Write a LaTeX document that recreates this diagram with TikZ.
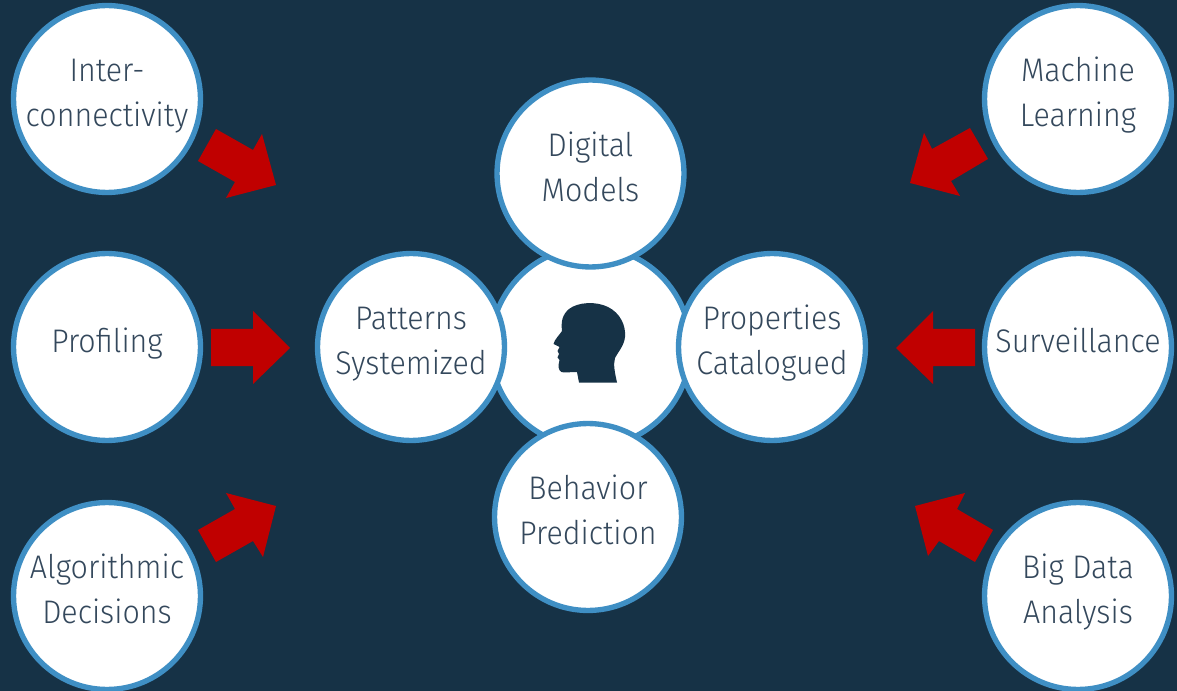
\documentclass[tikz,border=0pt]{standalone}
\usepackage{fontspec}
\setmainfont[FakeStretch=0.93]{Fira Sans Light}
\definecolor{bgc}{HTML}{163246}
\definecolor{ringc}{HTML}{3F8FC4}
\definecolor{redc}{HTML}{C00000}
\definecolor{txtc}{HTML}{34485C}
\newcommand{\lbtext}[1]{\raisebox{-3.4pt}[0pt][0pt]{\def\arraystretch{1}\setlength{\tabcolsep}{0pt}\begin{tabular}{c}#1\end{tabular}}}
\tikzset{
  bub/.style={circle,draw=ringc,fill=white,line width=4pt,minimum size=140.2pt,inner sep=0pt,text=txtc,
     font=\fontsize{24.5pt}{34pt}\selectfont},
  redarrow/.style={fill=redc,draw=none},
  headshape/.style={fill=bgc,draw=none}
}
\begin{document}
\begin{tikzpicture}[x=0.75pt,y=-0.75pt]
\useasboundingbox (0,0) rectangle (1177,691);
\fill[bgc] (0,0) rectangle (1177,691);
% arrows
\fill[redarrow] (198,161)--(216,129)--(253,150)--(262,134)--(276,185)--(226,198)--(235,182)--cycle;
\fill[redarrow] (211,329)--(253,329)--(253,311)--(290,348)--(253,384)--(253,366)--(211,366)--cycle;
\fill[redarrow] (198,530)--(216,562)--(253,541)--(263,557)--(276,506)--(226,493)--(235,509)--cycle;
\fill[redarrow] (988,159)--(970,128)--(932,149)--(924,133)--(910,183)--(960,196)--(951,181)--cycle;
\fill[redarrow] (975,329)--(933,329)--(933,311)--(896,348)--(933,384)--(933,366)--(975,366)--cycle;
\fill[redarrow] (993,530)--(975,562)--(939,541)--(928,556)--(915,506)--(965,493)--(957,509)--cycle;
% centre
\node[bub,minimum size=150pt] (core) at (590.5,347) {};
\fill[headshape] (617,382.5) -- (579,382.5) -- (577,372)
  .. controls (570,372) and (564,373) .. (561.5,372)
  .. controls (558,370) and (558,366) .. (559.5,360)
  -- (557.5,357.5) -- (559,354) -- (557.5,351) -- (559.5,347)
  -- (553.5,344)
  .. controls (554,340) and (561,333) .. (562,331)
  .. controls (561,322) and (562,315) .. (569,309)
  .. controls (578,302) and (596,301) .. (608,307)
  .. controls (620,313) and (626,325) .. (625,337)
  .. controls (624,346) and (618,352) .. (615,358)
  .. controls (613,365) and (615,373) .. (617,382.5) -- cycle;
% bubbles
\node[bub] (inter) at (107,99) {\lbtext{Inter-\\connectivity}};
\node[bub] (prof) at (107,347) {\lbtext{Profiling}};
\node[bub] (algo) at (107,596) {\lbtext{Algorithmic\\Decisions}};
\node[bub] (ml) at (1078,99) {\lbtext{Machine\\Learning}};
\node[bub] (surv) at (1078,347) {\lbtext{Surveillance}};
\node[bub] (big) at (1078,596) {\lbtext{Big Data\\Analysis}};
\node[bub] (pat) at (411,347) {\lbtext{Patterns\\Systemized}};
\node[bub] (props) at (772,347) {\lbtext{Properties\\Catalogued}};
\node[bub] (dig) at (590.5,173.5) {\lbtext{Digital\\Models}};
\node[bub] (beh) at (588,517) {\lbtext{Behavior\\Prediction}};
\end{tikzpicture}
\end{document}
